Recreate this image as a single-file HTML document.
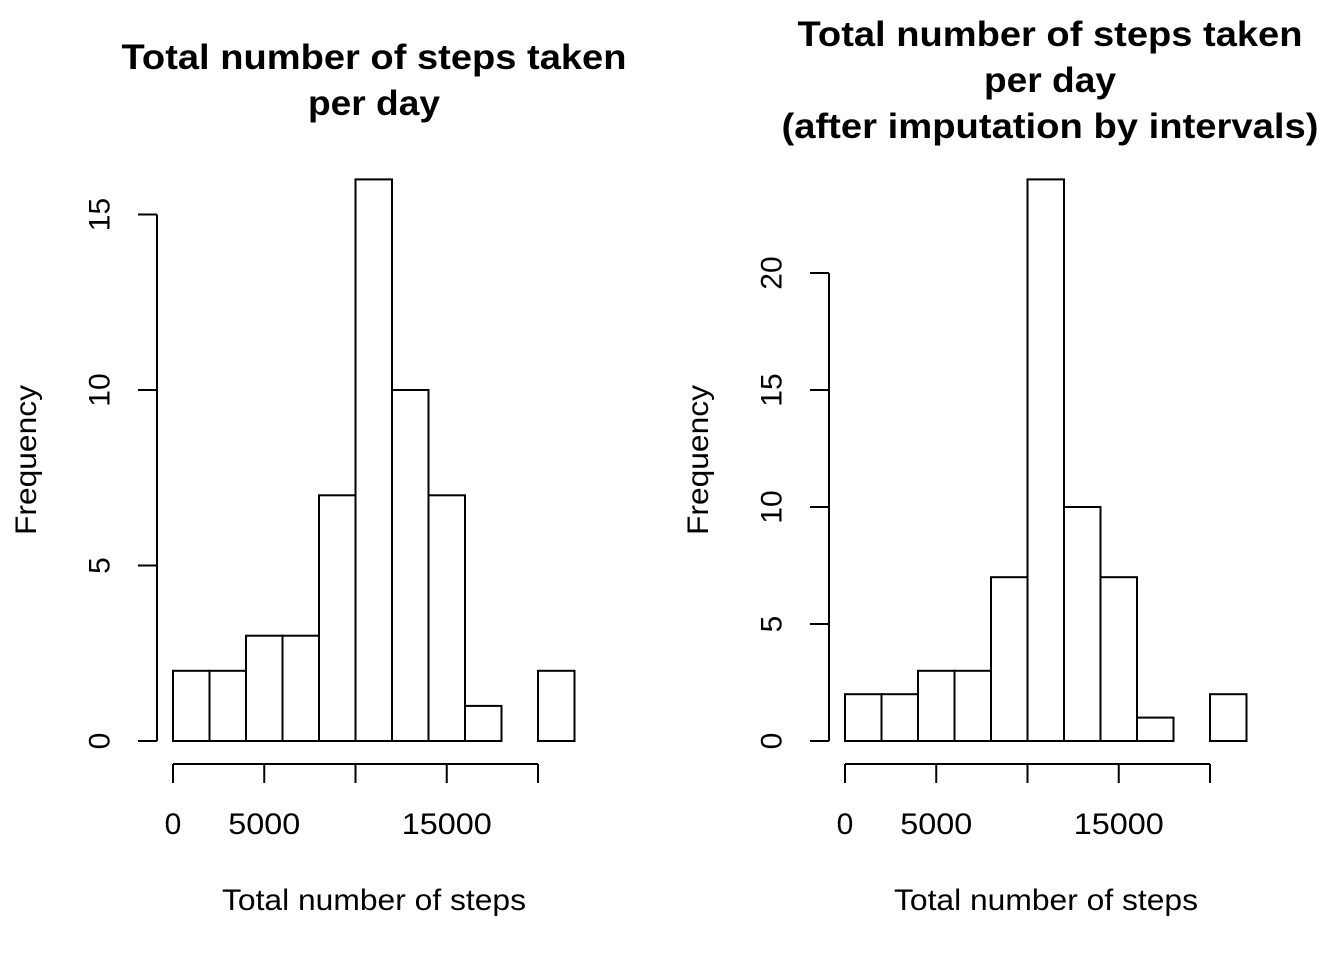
<!DOCTYPE html>
<html><head><meta charset="utf-8"><style>
html,body{margin:0;padding:0;background:#fff}
svg{display:block;font-family:"Liberation Sans",sans-serif}
</style></head><body>
<svg id="c" width="1344" height="960"></svg>
<script>
const binEdges=[0,2000,4000,6000,8000,10000,12000,14000,16000,18000,20000,22000];
const countsRaw=[2,2,3,3,7,16,10,7,1,0,2];
const countsImputed=[2,2,3,3,7,24,10,7,1,0,2];
const xTicks=[0,5000,10000,15000,20000];
const xTickLabels=["0","5000","","15000",""];
const yTicksRaw=[0,5,10,15];
const yTicksImp=[0,5,10,15,20];
const titlesRaw=["Total number of steps taken","per day"];
const titlesImp=["Total number of steps taken","per day","(after imputation by intervals)"];
const titleWidths={"Total number of steps taken":505,"per day":132,"(after imputation by intervals)":537};

const NS="http://www.w3.org/2000/svg";
const svg=document.getElementById('c');
function mk(tag,attrs,parent){const e=document.createElementNS(NS,tag);for(const k in attrs)e.setAttribute(k,attrs[k]);(parent||svg).appendChild(e);return e;}

function panel(prefix,x0,y0,pxPerUnit,counts,yTicks,titles,titleY,titleCx){
  const g=mk('g',{});
  
  
  const sx=v=>x0+v*(365/20000);
  const sy=v=>y0-v*pxPerUnit;
  counts.forEach((c,i)=>{
    const r=mk('rect',{x:sx(binEdges[i]),y:sy(c),width:sx(binEdges[i+1])-sx(binEdges[i]),height:y0-sy(c),fill:'#fff',stroke:'#000','stroke-width':2},g);
    
    
  });
  const ax=x0-16;
  const ya=mk('g',{},g);
  
  
  mk('line',{x1:ax,x2:ax,y1:sy(yTicks[0]),y2:sy(yTicks[yTicks.length-1]),stroke:'#000','stroke-width':2},ya);
  yTicks.forEach(t=>{
    mk('line',{x1:ax-19,x2:ax,y1:sy(t),y2:sy(t),stroke:'#000','stroke-width':2},ya);
    const tx=mk('text',{x:0,y:0,transform:`translate(${ax-57},${sy(t)}) rotate(-90)`,'text-anchor':'middle','dominant-baseline':'central','font-size':30},ya);
    tx.textContent=t;
  });
  const xa=mk('g',{},g);
  
  
  mk('line',{x1:sx(xTicks[0]),x2:sx(xTicks[xTicks.length-1]),y1:764,y2:764,stroke:'#000','stroke-width':2},xa);
  xTicks.forEach((t,i)=>{
    mk('line',{x1:sx(t),x2:sx(t),y1:764,y2:783,stroke:'#000','stroke-width':2},xa);
    if(xTickLabels[i]){const tx=mk('text',{x:sx(t),y:834,'text-anchor':'middle','font-size':30},xa);tx.textContent=xTickLabels[i];
      if(xTickLabels[i].length>1){tx.setAttribute('textLength',xTickLabels[i].length*18);tx.setAttribute('lengthAdjust','spacingAndGlyphs');}}
  });
  const xl=mk('text',{x:x0+201,y:910,'text-anchor':'middle','font-size':30,textLength:304,lengthAdjust:'spacingAndGlyphs'},g);
  xl.textContent='Total number of steps';
  
  
  const yl=mk('text',{x:0,y:0,transform:`translate(${x0-137},460) rotate(-90)`,'text-anchor':'middle','font-size':30,textLength:150,lengthAdjust:'spacingAndGlyphs'},g);
  yl.textContent='Frequency';
  
  
  titles.forEach((s,i)=>{
    const t=mk('text',{x:titleCx,y:titleY+i*46,'text-anchor':'middle','font-size':35,'font-weight':'bold',textLength:titleWidths[s],lengthAdjust:'spacingAndGlyphs'},g);
    t.textContent=s;
    
    
  });
}
panel('left',173,741,35.1,countsRaw,yTicksRaw,titlesRaw,69,374);
panel('right',845,741,23.4,countsImputed,yTicksImp,titlesImp,46,1050);
</script>
</body></html>
